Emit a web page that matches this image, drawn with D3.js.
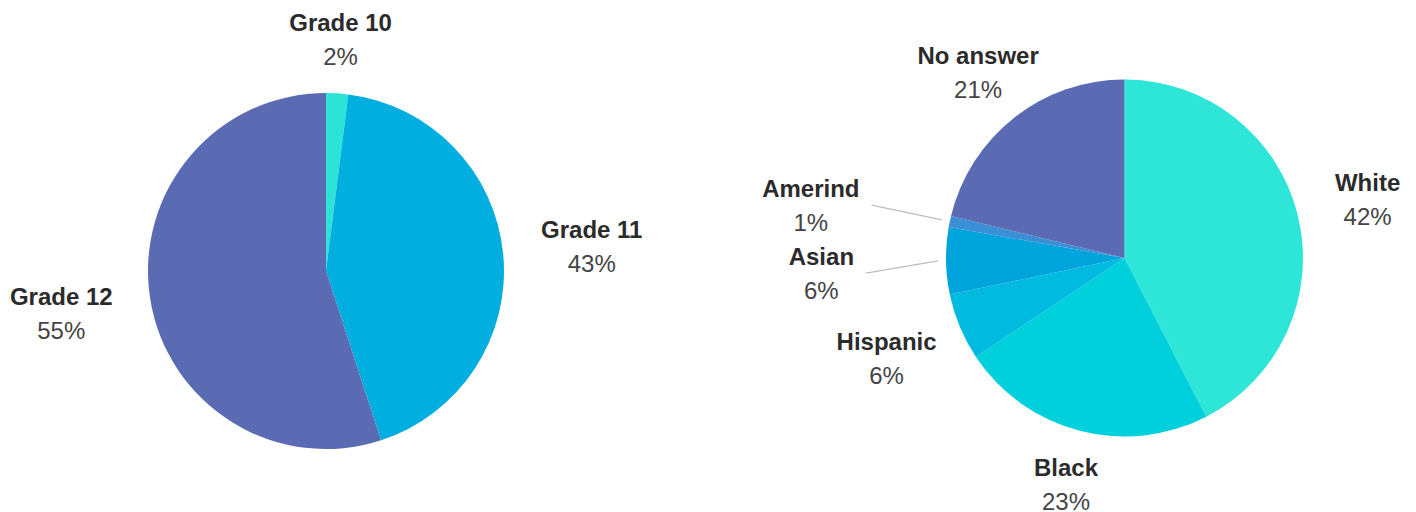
<!DOCTYPE html>
<html>
<head>
<meta charset="utf-8">
<script src="https://cdn.jsdelivr.net/npm/d3@7"></script>
<style>
  html, body { margin: 0; padding: 0; background: #ffffff; }
  svg { display: block; }
  .lbl-name { font-family: "Liberation Sans", Arial, sans-serif; font-weight: bold; font-size: 24px; fill: #2b2b2b; }
  .lbl-pct  { font-family: "Liberation Sans", Arial, sans-serif; font-size: 24px; fill: #444444; }
</style>
</head>
<body>
<svg id="chart" width="1416" height="512"></svg>
<script>
// Grade distribution
const gradeLabels = ["Grade 10", "Grade 11", "Grade 12"];
const gradeValues = [2, 43, 55];
const gradeColors = ["#2de3d5", "#00aee0", "#5a6bb3"];

// Race / ethnicity distribution
const raceLabels = ["White", "Black", "Hispanic", "Asian", "Amerind", "No answer"];
const raceValues = [42, 23, 6, 6, 1, 21];
const raceColors = ["#2ee6d8", "#00d0dc", "#00bae0", "#00a4dd", "#3a8fd5", "#5a6bb3"];

// Small slices whose labels sit out on a leader line
const calloutLabels = ["Amerind", "Asian"];

const svg = d3.select("#chart");

function drawPie(cfg) {
  const data = cfg.labels.map((l, i) => ({ label: l, value: cfg.values[i], color: cfg.colors[i] }));
  const pie = d3.pie().sort(null).value(d => d.value);
  const arcs = pie(data);
  const arc = d3.arc().innerRadius(0).outerRadius(cfg.r);

  const g = svg.append("g").attr("transform", `translate(${cfg.cx},${cfg.cy})`);

  g.selectAll("path.slice")
    .data(arcs)
    .join("path")
    .attr("class", "slice")
    .attr("d", arc)
    .attr("fill", d => d.data.color);

  const callouts = [];

  arcs.forEach(a => {
    const mid = (a.startAngle + a.endAngle) / 2;
    const s = Math.sin(mid), c = -Math.cos(mid);
    const lg = g.append("g");
    lg.append("text").attr("class", "lbl-name").attr("text-anchor", "middle")
      .attr("x", 0).attr("y", -8).text(a.data.label);
    lg.append("text").attr("class", "lbl-pct").attr("text-anchor", "middle")
      .attr("x", 0).attr("y", 26).text(a.data.value + "%");
    const w = lg.node().getBBox().width;

    if (cfg.callouts.includes(a.data.label)) {
      const r0 = cfg.r + 8, r1 = cfg.r + 80;
      callouts.push({ lg, w, s, sx: s * r0, sy: c * r0, ex: s * r1, ey: c * r1 });
    } else {
      // push the label block out along the slice's mid-angle until it clears the rim
      const reach = Math.min((w / 2) / Math.max(Math.abs(s), 1e-6), 16 / Math.max(Math.abs(c), 1e-6));
      const D = cfg.r + 38 + reach;
      lg.attr("transform", `translate(${s * D},${c * D})`);
    }
  });

  // keep stacked callout labels from overlapping
  callouts.sort((p, q) => p.ey - q.ey);
  for (let i = 1; i < callouts.length; i++) {
    if (callouts[i].ey < callouts[i - 1].ey + 68) callouts[i].ey = callouts[i - 1].ey + 68;
  }
  callouts.forEach(p => {
    g.insert("line", "g")
      .attr("x1", p.sx).attr("y1", p.sy)
      .attr("x2", p.ex).attr("y2", p.ey)
      .attr("stroke", "#bdbdbd").attr("stroke-width", 1.2);
    const dx = p.s < 0 ? -(12 + p.w / 2) : (12 + p.w / 2);
    p.lg.attr("transform", `translate(${p.ex + dx},${p.ey})`);
  });
}

drawPie({ labels: gradeLabels, values: gradeValues, colors: gradeColors, cx: 326, cy: 271, r: 178, callouts: [] });
drawPie({ labels: raceLabels, values: raceValues, colors: raceColors, cx: 1124.5, cy: 258, r: 178.5, callouts: calloutLabels });
</script>
</body>
</html>
